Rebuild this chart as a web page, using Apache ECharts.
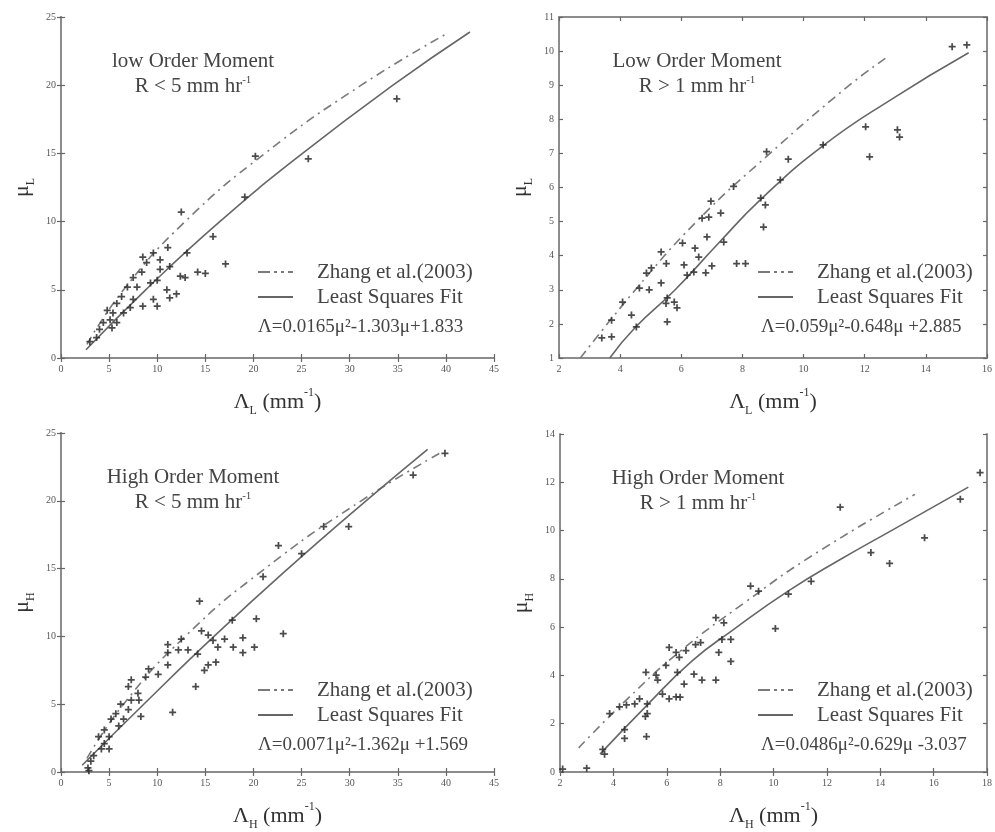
<!DOCTYPE html>
<html><head><meta charset="utf-8">
<script src="https://cdn.jsdelivr.net/npm/echarts@6/dist/echarts.min.js"></script>
<style>html,body{margin:0;padding:0;background:#fff}#c{width:995px;height:832px}</style>
</head><body><div id="c"></div>
<script>
// ---------- DATA (Λ, μ) ----------
const p1Points = [[34.9,19.0],[25.7,14.6],[20.2,14.8],[19.1,11.8],[12.5,10.7],[15.8,8.9],[17.1,6.9],[15.0,6.2],[14.2,6.3],[12.9,5.9],[12.4,6.0],
 [11.1,8.1],[13.1,7.7],[9.6,7.7],[8.9,7.0],[10.3,7.2],[11.3,6.7],[8.4,6.3],[10.0,5.7],[9.3,5.5],[11.0,5.0],[11.3,4.4],[10.0,3.8],[7.9,5.2],[6.9,5.2],
 [6.3,4.5],[7.5,4.3],[5.8,4.0],[8.5,3.8],[7.2,3.7],[5.4,3.3],[6.5,3.3],[5.1,2.8],[5.8,2.6],[4.4,2.6],[5.3,2.2],[4.0,2.1],[3.7,1.5],[3.0,1.2],
 [8.5,7.4],[7.5,5.9],[10.3,6.5],[12.0,4.7],[9.6,4.3],[4.8,3.5]];
const p1Zhang = [[2.7,1.0],[6.5,5.0],[12.9,10.0],[21.2,15.0],[31.2,20.0],[39.9,23.7]];
const p1Fit = [[2.6,0.6],[8.8,5.0],[16.5,10.0],[25.1,15.0],[34.5,20.0],[42.5,23.9]];

const p2Points = [[14.86,10.13],[15.34,10.18],[12.03,7.78],[12.16,6.9],[13.07,7.69],[13.14,7.48],[10.64,7.25],[9.5,6.83],[9.24,6.22],[8.79,7.05],
 [8.6,5.69],[8.75,5.49],[8.69,4.84],[7.71,6.03],[6.97,5.6],[7.29,5.25],[6.68,5.1],[6.9,5.13],[6.84,4.55],[7.39,4.4],[6.04,4.37],[6.45,4.22],[6.57,3.96],
 [6.09,3.73],[5.34,4.11],[5.51,3.77],[5.02,3.64],[6.19,3.43],[6.41,3.52],[6.8,3.5],[7.0,3.7],[7.81,3.77],[8.1,3.77],[4.86,3.49],[4.95,3.0],[4.63,3.05],
 [5.34,3.2],[5.54,2.76],[5.5,2.6],[5.77,2.64],[5.86,2.47],[5.54,2.06],[4.37,2.26],[4.53,1.91],[4.08,2.64],[3.72,2.11],[3.4,1.59],[3.72,1.62]];
const p2Zhang = [[2.7,1.0],[4.5,3.0],[6.5,5.0],[8.9,7.0],[11.5,9.0],[12.7,9.8]];
const p2Fit = [[3.66,1.0],[4.5,1.9],[5.8,3.0],[7.2,4.35],[8.6,5.65],[10.6,7.2],[12.9,8.6],[15.4,9.95]];

const p3Points = [[39.9,23.5],[36.6,21.9],[27.3,18.1],[29.9,18.1],[22.6,16.7],[25.0,16.1],[21.0,14.4],[14.4,12.6],[20.3,11.3],[23.1,10.2],[17.8,11.2],
 [18.9,9.9],[20.1,9.2],[18.9,8.8],[17.9,9.2],[17.0,9.8],[16.3,9.2],[15.3,10.1],[14.6,10.4],[15.8,9.7],[14.2,8.7],[16.1,8.1],[15.3,7.9],[14.9,7.5],
 [14.0,6.3],[12.5,9.8],[13.2,9.0],[12.2,9.0],[11.1,8.8],[11.1,7.9],[10.1,7.2],[11.6,4.4],[9.1,7.6],[8.8,7.0],[7.3,6.8],[7.0,6.3],[8.0,5.8],[8.1,5.3],
 [7.3,5.3],[6.2,5.0],[7.0,4.6],[5.7,4.3],[8.3,4.1],[6.5,3.9],[5.2,3.9],[6.0,3.4],[4.5,3.1],[5.0,2.6],[3.9,2.6],[4.5,2.1],[4.2,1.7],[5.0,1.7],
 [3.4,1.2],[3.1,0.8],[2.8,0.3],[2.9,0.1],[11.1,9.4]];
const p3Zhang = [[2.7,1.0],[6.5,5.0],[12.9,10.0],[21.2,15.0],[31.2,20.0],[39.6,23.6]];
const p3Fit = [[2.2,0.5],[8.6,5.0],[15.9,10.0],[23.6,15.0],[31.7,20.0],[38.1,23.8]];

const p4Points = [[17.74,12.4],[17.0,11.3],[12.5,10.97],[15.66,9.7],[13.65,9.09],[14.35,8.64],[11.41,7.9],[10.56,7.37],[9.14,7.7],[9.44,7.49],[10.07,5.94],
 [7.84,6.39],[8.14,6.18],[8.4,5.49],[8.07,5.49],[7.95,4.95],[8.4,4.58],[7.84,3.81],[7.27,5.36],[7.08,5.28],[6.72,5.03],[6.35,4.95],[6.09,5.16],[6.47,4.75],
 [5.97,4.42],[6.4,4.13],[5.22,4.13],[5.6,4.01],[5.66,3.81],[7.02,4.05],[7.32,3.81],[6.65,3.64],[5.84,3.23],[6.09,3.03],[6.35,3.11],[6.5,3.1],[4.98,3.03],
 [4.8,2.82],[4.49,2.78],[4.23,2.7],[5.27,2.82],[5.27,2.42],[5.2,2.3],[3.86,2.42],[4.42,1.76],[4.42,1.39],[5.24,1.47],[3.6,0.94],[3.67,0.74],[3.0,0.16],[2.1,0.12]];
const p4Zhang = [[2.7,1.0],[4.5,3.0],[6.5,5.0],[8.9,7.0],[11.5,9.0],[15.3,11.5]];
const p4Fit = [[3.5,0.74],[5.2,2.7],[6.95,4.6],[8.5,5.9],[10.56,7.5],[12.5,8.8],[14.5,10.05],[17.3,11.8]];

const panelTitles = [["low Order Moment","R < 5 mm hr","-1"],["Low Order Moment","R > 1 mm hr","-1"],["High Order Moment","R < 5 mm hr","-1"],["High Order Moment","R > 1 mm hr","-1"]];
const equations = ["Λ=0.0165μ²-1.303μ+1.833","Λ=0.059μ²-0.648μ +2.885","Λ=0.0071μ²-1.362μ +1.569","Λ=0.0486μ²-0.629μ -3.037"];
const xRanges = [[0,45,5],[2,16,2],[0,45,5],[2,18,2]];
const yRanges = [[0,25,5],[1,11,1],[0,25,5],[0,14,2]];
const subs = ["L","L","H","H"];
const legendNames = ["Zhang et al.(2003)","Least Squares Fit"];

// ---------- LAYOUT ----------
const grids = [
  {left:61, top:17, width:433, height:341},
  {left:559, top:17, width:431, height:341},
  {left:61, top:433, width:433, height:343},
  {left:560, top:434, width:430, height:342}
];
const FONT = "'Liberation Serif','Times New Roman',serif";
const axisLine = {show:true, lineStyle:{color:'#8c8c8c', width:2}};
const axisTick = {show:true, inside:true, length:4, lineStyle:{color:'#666', width:1.2}};
const rich = {
  g:{fontFamily:FONT, fontSize:22, color:'#333', lineHeight:26, verticalAlign:'bottom'},
  s:{fontFamily:FONT, fontSize:12, color:'#333', lineHeight:26, verticalAlign:'bottom', padding:[0,0,-4,0]},
  p:{fontFamily:FONT, fontSize:12, color:'#333', lineHeight:26, verticalAlign:'top'}
};
const dashIcon = 'path://M0,0H12V2H0Z M16,0H19V2H16Z M23,0H26V2H23Z M30,0H35V2H30Z';
const solidIcon = 'path://M0,0H35V2H0Z';

const xAxis = [], yAxis = [], series = [], legend = [], graphic = [];
const allPts = [p1Points,p2Points,p3Points,p4Points];
const allZ = [p1Zhang,p2Zhang,p3Zhang,p4Zhang];
const allF = [p1Fit,p2Fit,p3Fit,p4Fit];

grids.forEach((g,i)=>{
  const [x0,x1,xi] = xRanges[i], [y0,y1,yi] = yRanges[i];
  xAxis.push({gridIndex:i, type:'value', min:x0, max:x1, interval:xi, position:'bottom',
    axisLine, axisTick, splitLine:{show:false},
    axisLabel:{fontFamily:FONT, fontSize:10, color:'#555', margin:6},
    name:'{g|Λ}{s|'+subs[i]+'}{g| (mm}{p|-1}{g|)}', nameLocation:'middle', nameGap:29,
    nameTextStyle:{rich}});
  xAxis.push({gridIndex:i, type:'value', min:x0, max:x1, interval:xi, position:'top',
    axisLine, axisTick, splitLine:{show:false}, axisLabel:{show:false}});
  yAxis.push({gridIndex:i, type:'value', min:y0, max:y1, interval:yi, position:'left',
    axisLine, axisTick, splitLine:{show:false},
    axisLabel:{fontFamily:FONT, fontSize:10, color:'#555', margin:5},
    name:'{g|μ}{s|'+subs[i]+'}', nameLocation:'middle', nameGap:28, nameRotate:90,
    nameTextStyle:{rich}});
  yAxis.push({gridIndex:i, type:'value', min:y0, max:y1, interval:yi, position:'right',
    axisLine, axisTick, splitLine:{show:false}, axisLabel:{show:false}});

  series.push({type:'scatter', xAxisIndex:2*i, yAxisIndex:2*i, data:allPts[i],
    symbol:'path://M3,0H5V3H8V5H5V8H3V5H0V3H3Z', symbolSize:7,
    itemStyle:{color:'#2b2b2b', opacity:0.85}, z:3});
  series.push({type:'line', name:legendNames[0], xAxisIndex:2*i, yAxisIndex:2*i, data:allZ[i],
    smooth:true, symbol:'none', itemStyle:{color:'#7a7a7a'},
    lineStyle:{color:'#7a7a7a', width:1.6, type:[9,5,2,5]}, z:2});
  series.push({type:'line', name:legendNames[1], xAxisIndex:2*i, yAxisIndex:2*i, data:allF[i],
    smooth:true, symbol:'none', itemStyle:{color:'#666'},
    lineStyle:{color:'#666', width:1.6, type:'solid'}, z:2});

  const lx = g.left + g.width - (i%2===0 ? 236 : 232);
  legend.push({orient:'vertical', left:lx, top:g.top + g.height - 98, padding:0,
    itemWidth:35, itemHeight:2, itemGap:1, selectedMode:false,
    data:[{name:legendNames[0], icon:dashIcon},{name:legendNames[1], icon:solidIcon}],
    textStyle:{fontFamily:FONT, fontSize:21, lineHeight:24, color:'#444', padding:[0,0,0,19]}});

  graphic.push({type:'text', left:g.left + g.width - (i%2===0 ? 236 : 229), top:g.top + g.height - 40,
    style:{text:equations[i], font:'19px '+FONT, fill:'#444'}});

  const cx = g.left + (i%2===0 ? 132 : 138);
  graphic.push({type:'text', x:cx, y:g.top + 44, style:{text:panelTitles[i][0], font:'21px '+FONT, fill:'#444', align:'center', verticalAlign:'middle'}});
  graphic.push({type:'text', x:cx, y:g.top + 69, style:{
    text:'{a|'+panelTitles[i][1]+'}{b|'+panelTitles[i][2]+'}', align:'center', verticalAlign:'middle',
    rich:{a:{font:'21px '+FONT, fill:'#444', verticalAlign:'bottom', lineHeight:22}, b:{font:'11px '+FONT, fill:'#444', verticalAlign:'top', lineHeight:22}}}});
});

const chart = echarts.init(document.getElementById('c'), null, {renderer:'canvas'});
chart.setOption({
  animation:false, backgroundColor:'#fff',
  grid:grids.map(g=>Object.assign({containLabel:false}, g)),
  xAxis, yAxis, series, legend, graphic
});
</script></body></html>
